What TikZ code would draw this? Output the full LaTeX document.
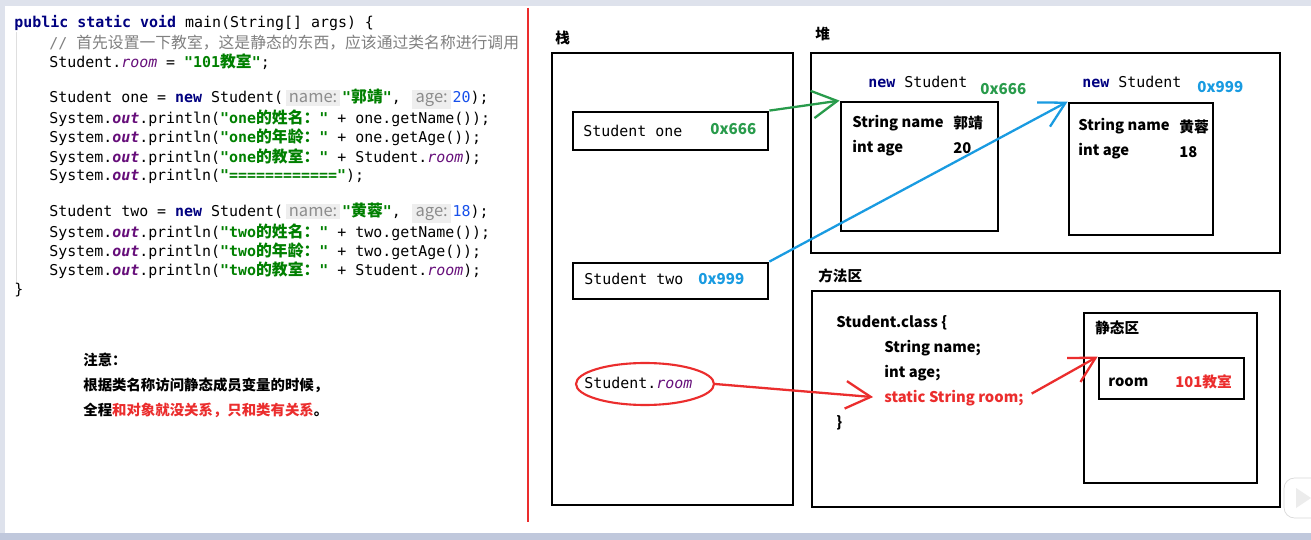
\documentclass[tikz,border=0pt]{standalone}
\usepackage{fontspec}
\setmainfont{Noto Sans CJK SC}
\setmonofont{DejaVu Sans Mono}
\newfontfamily\cjk{Noto Sans CJK SC}
\usetikzlibrary{shapes.geometric,arrows.meta}

\definecolor{kwblue}{RGB}{0,0,128}
\definecolor{strgreen}{RGB}{0,128,0}
\definecolor{fldpurple}{RGB}{102,14,122}
\definecolor{numblue}{RGB}{23,80,235}
\definecolor{cmtgray}{RGB}{128,128,128}
\definecolor{hintbg}{RGB}{238,238,238}
\definecolor{hintfg}{RGB}{140,140,140}
\definecolor{addrgreen}{RGB}{40,155,75}
\definecolor{addrblue}{RGB}{25,155,225}
\definecolor{penred}{RGB}{235,45,45}
\definecolor{framegray}{RGB}{222,226,236}
\definecolor{framedark}{RGB}{192,200,220}

\newcommand{\jkw}[1]{{\color{kwblue}\bfseries #1}}
\newcommand{\jstr}[1]{{\color{strgreen}\bfseries #1}}
\newcommand{\jcn}[1]{{\cjk\fontsize{9.0}{10}\selectfont #1}}
\newcommand{\jroom}{{\color{fldpurple}\itshape room}}
\newcommand{\jout}{{\color{fldpurple}\bfseries\itshape out}}
\newcommand{\jhint}[1]{\hspace{1.5pt}{\setlength{\fboxsep}{1.8pt}\colorbox{hintbg}{\rmfamily\fontsize{9.4}{10}\selectfont\color{hintfg}#1}}\hspace{1pt}}

\begin{document}
\begin{tikzpicture}[x=0.02cm, y=-0.02cm,
	code/.style={anchor=west, inner sep=0, font=\fontsize{8.5}{10}\selectfont\ttfamily},
	note/.style={anchor=west, inner sep=0, font=\fontsize{8.2}{10}\selectfont\bfseries},
	area/.style={anchor=west, inner sep=0, font=\fontsize{8.3}{10}\selectfont\bfseries},
	txt/.style={anchor=west, inner sep=0, font=\fontsize{8.4}{10}\selectfont\bfseries},
	mono/.style={anchor=west, inner sep=0, font=\fontsize{8.5}{10}\selectfont\ttfamily},
	addr/.style={anchor=west, inner sep=0, font=\fontsize{8.6}{10}\selectfont\bfseries},
	box/.style={draw, line width=1.6pt, inner sep=0},
	ptr/.style={line width=1.3pt, -{Straight Barb[length=5mm,width=5.5mm]}}]
	\useasboundingbox (0,0) rectangle (1311,540);
	% window frame
	\fill[framegray] (0,0) rectangle (1311,540);
	\fill[white] (5,6) rectangle (1311,533);
	\fill[framedark] (0,533) rectangle (1311,540);
	\draw[gray!25] (16,32) -- (16,284);
	\draw[penred, line width=1pt] (528,8) -- (528,522);

	% source code
	\node[code] (c1) at (14,23) {\jkw{public static void} main(String[] args) \{};
	\node[code] (c2) at (49,43) {\color{cmtgray}// \jcn{首先设置一下教室，这是静态的东西，应该通过类名称进行调用}};
	\node[code] (c3) at (49,62) {Student.\jroom{} = \jstr{"101\jcn{教室}"};};
	\node[code] (c4) at (49,99) {Student one = \jkw{new} Student(\jhint{name:}\jstr{"\jcn{郭靖}"}, \jhint{age:}{\color{numblue}20});};
	\node[code] (c5) at (49,118) {System.\jout.println(\jstr{"one\jcn{的姓名：}"} + one.getName());};
	\node[code] (c6) at (49,137) {System.\jout.println(\jstr{"one\jcn{的年龄：}"} + one.getAge());};
	\node[code] (c7) at (49,157) {System.\jout.println(\jstr{"one\jcn{的教室：}"} + Student.\jroom);};
	\node[code] (c8) at (49,176) {System.\jout.println(\jstr{"============"});};
	\node[code] (c9) at (49,213) {Student two = \jkw{new} Student(\jhint{name:}\jstr{"\jcn{黄蓉}"}, \jhint{age:}{\color{numblue}18});};
	\node[code] (c10) at (49,232) {System.\jout.println(\jstr{"two\jcn{的姓名：}"} + two.getName());};
	\node[code] (c11) at (49,251) {System.\jout.println(\jstr{"two\jcn{的年龄：}"} + two.getAge());};
	\node[code] (c12) at (49,270) {System.\jout.println(\jstr{"two\jcn{的教室：}"} + Student.\jroom);};
	\node[code] (c13) at (14,290) {\}};

	% note
	\node[note] (n1) at (83,360) {注意：};
	\node[note] (n2) at (83,385) {根据类名称访问静态成员变量的时候，};
	\node[note] (n3) at (83,410) {全程{\color{penred}和对象就没关系，只和类有关系}。};

	% stack
	\node[area] (stacklbl) at (555,38) {栈};
	\node[box, minimum width=4.82cm, minimum height=9.04cm] (stack) at (672.5,279) {};
	\node[box, minimum width=3.9cm, minimum height=0.76cm] (one) at (670.5,131) {};
	\node[mono] (onetxt) at (583,131) {Student one};
	\node[addr, text=addrgreen] (oneaddr) at (710,129) {0x666};
	\node[box, minimum width=3.9cm, minimum height=0.72cm] (two) at (670.5,281) {};
	\node[mono] (twotxt) at (584,279) {Student two};
	\node[addr, text=addrblue] (twoaddr) at (698,279) {0x999};
	\node[ellipse, draw=penred, line width=1.2pt, inner sep=0, minimum width=2.76cm, minimum height=0.84cm] (roomref) at (645,384) {};
	\node[mono] (roomtxt) at (584,383) {Student.\jroom};

	% heap
	\node[area] (heaplbl) at (815,34) {堆};
	\node[box, minimum width=9.38cm, minimum height=4cm] (heap) at (1045.5,153) {};
	\node[mono] (new1) at (868,82) {\jkw{new} Student};
	\node[addr, text=addrgreen] (addr1) at (980,89) {0x666};
	\node[box, minimum width=3.14cm, minimum height=2.58cm] (obj1) at (919.5,166.5) {};
	\node[txt] (name1) at (852,123) {String name};
	\node[txt] (val1) at (953,123) {郭靖};
	\node[txt] (age1) at (852,148) {int age};
	\node[txt] (num1) at (953,148) {20};
	\node[mono] (new2) at (1082,82) {\jkw{new} Student};
	\node[addr, text=addrblue] (addr2) at (1197,87) {0x999};
	\node[box, minimum width=2.88cm, minimum height=2.64cm] (obj2) at (1141,169) {};
	\node[txt] (name2) at (1078,126) {String name};
	\node[txt] (val2) at (1179,127) {黄蓉};
	\node[txt] (age2) at (1078,151) {int age};
	\node[txt] (num2) at (1179,152) {18};

	% method area
	\node[area] (methodlbl) at (818,276) {方法区};
	\node[box, minimum width=9.36cm, minimum height=4.32cm] (method) at (1046,399) {};
	\node[txt] (cls) at (836,323) {Student.class \{};
	\node[txt] (fname) at (884,348) {String name;};
	\node[txt] (fage) at (884,373) {int age;};
	\node[txt, text=penred] (staticroom) at (884,398) {static String room;};
	\node[txt] (clsend) at (836,423) {\}};
	\node[box, minimum width=3.46cm, minimum height=3.4cm] (staticarea) at (1170.5,398) {};
	\node[area] (staticlbl) at (1095,328) {静态区};
	\node[box, minimum width=2.9cm, minimum height=0.82cm] (roombox) at (1171.5,378.5) {};
	\node[txt] (roomname) at (1108,382) {room};
	\node[txt, text=penred] (roomval) at (1175,382) {101教室};

	% player button
	\draw[gray!30, fill=white, rounded corners=6pt] (1284,478) rectangle (1330,518);
	\fill[gray!15] (1296,488) -- (1296,508) -- (1311,498) -- cycle;

	% references
	\draw[ptr, addrgreen] (one.north east) -- (obj1.north west);
	\draw[ptr, addrblue] (two.north east) -- (obj2.north west);
	\draw[ptr, penred, shorten >=0.22cm] (roomref.east) -- (staticroom.west);
	\draw[ptr, penred, shorten <=0.18cm] (staticroom.east) -- (roombox.north west);
\end{tikzpicture}
\end{document}
